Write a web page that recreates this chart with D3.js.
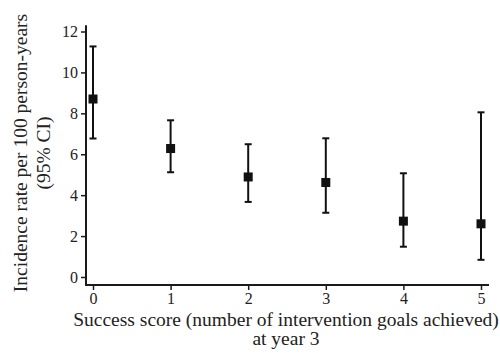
<!DOCTYPE html>
<html>
<head>
<meta charset="utf-8">
<script src="https://cdn.jsdelivr.net/npm/d3@7"></script>
<style>
  body { margin: 0; background: #fff; }
  text { font-family: "Liberation Serif", "Times New Roman", serif; fill: #222; }
</style>
</head>
<body>
<svg id="chart"></svg>
<script>
// Success score categories and incidence rates (95% CI)
const scores = [0, 1, 2, 3, 4, 5];
const rates = [8.7, 6.28, 4.89, 4.62, 2.73, 2.6];
const lower = [6.77, 5.12, 3.67, 3.14, 1.48, 0.84];
const upper = [11.27, 7.66, 6.49, 6.78, 5.07, 8.05];
const yTicks = [0, 2, 4, 6, 8, 10, 12];

const data = scores.map((s, i) => ({ score: s, rate: rates[i], lo: lower[i], hi: upper[i] }));

const width = 500, height = 353;
const serif = '"Liberation Serif", "Times New Roman", serif';

const svg = d3.select('#chart')
    .attr('width', width)
    .attr('height', height);

const xScale = d3.scaleLinear()
    .domain([0, 5])
    .range([93, 481]);

const yScale = d3.scaleLinear()
    .domain([0, 12])
    .range([277, 31.5]);

const axisColor = '#1a1a1a';

// y axis
const yAxisG = svg.append('g')
    .attr('transform', 'translate(86,0)')
    .call(d3.axisLeft(yScale).tickValues(yTicks).tickFormat(d3.format('d'))
        .tickSize(5).tickPadding(3).tickSizeOuter(0))
    .attr('font-family', serif)
    .attr('font-size', 16);
yAxisG.select('.domain').remove();
yAxisG.selectAll('line').attr('stroke', axisColor).attr('stroke-width', 1.5);
yAxisG.selectAll('text').attr('fill', '#222');

// x axis
const xAxisG = svg.append('g')
    .attr('transform', 'translate(0,285)')
    .call(d3.axisBottom(xScale).tickValues(scores).tickFormat(d3.format('d'))
        .tickSize(5).tickPadding(3).tickSizeOuter(0))
    .attr('font-family', serif)
    .attr('font-size', 16);
xAxisG.select('.domain').remove();
xAxisG.selectAll('line').attr('stroke', axisColor).attr('stroke-width', 1.5);
xAxisG.selectAll('text').attr('fill', '#222');

// axis lines (L shape)
svg.append('path')
    .attr('d', `M86,${yScale(12.3)}V285H489`)
    .attr('fill', 'none')
    .attr('stroke', axisColor)
    .attr('stroke-width', 2);

// error bars
const capW = 3.5;
const bars = svg.append('g').attr('stroke', '#111').attr('stroke-width', 2);
bars.selectAll('.whisker')
    .data(data)
    .join('line')
    .attr('class', 'whisker')
    .attr('x1', d => xScale(d.score))
    .attr('x2', d => xScale(d.score))
    .attr('y1', d => yScale(d.lo))
    .attr('y2', d => yScale(d.hi));
bars.selectAll('.cap-hi')
    .data(data)
    .join('line')
    .attr('class', 'cap-hi')
    .attr('x1', d => xScale(d.score) - capW)
    .attr('x2', d => xScale(d.score) + capW)
    .attr('y1', d => yScale(d.hi))
    .attr('y2', d => yScale(d.hi));
bars.selectAll('.cap-lo')
    .data(data)
    .join('line')
    .attr('class', 'cap-lo')
    .attr('x1', d => xScale(d.score) - capW)
    .attr('x2', d => xScale(d.score) + capW)
    .attr('y1', d => yScale(d.lo))
    .attr('y2', d => yScale(d.lo));

// point markers
const sq = 9;
svg.selectAll('.marker')
    .data(data)
    .join('rect')
    .attr('class', 'marker')
    .attr('x', d => xScale(d.score) - sq / 2)
    .attr('y', d => yScale(d.rate) - sq / 2)
    .attr('width', sq)
    .attr('height', sq)
    .attr('fill', '#111');

// axis titles
const yTitle = svg.append('text')
    .attr('transform', 'translate(27,153) rotate(-90)')
    .attr('text-anchor', 'middle')
    .attr('font-size', 19.5);
yTitle.append('tspan').attr('x', 0).attr('y', 0).text('Incidence rate per 100 person-years');
yTitle.append('tspan').attr('x', 0).attr('y', 23).text('(95% CI)');

const xTitle = svg.append('text')
    .attr('text-anchor', 'middle')
    .attr('font-size', 19.5);
xTitle.append('tspan').attr('x', 286).attr('y', 326).text('Success score (number of intervention goals achieved)');
xTitle.append('tspan').attr('x', 286).attr('y', 345).text('at year 3');
</script>
</body>
</html>
